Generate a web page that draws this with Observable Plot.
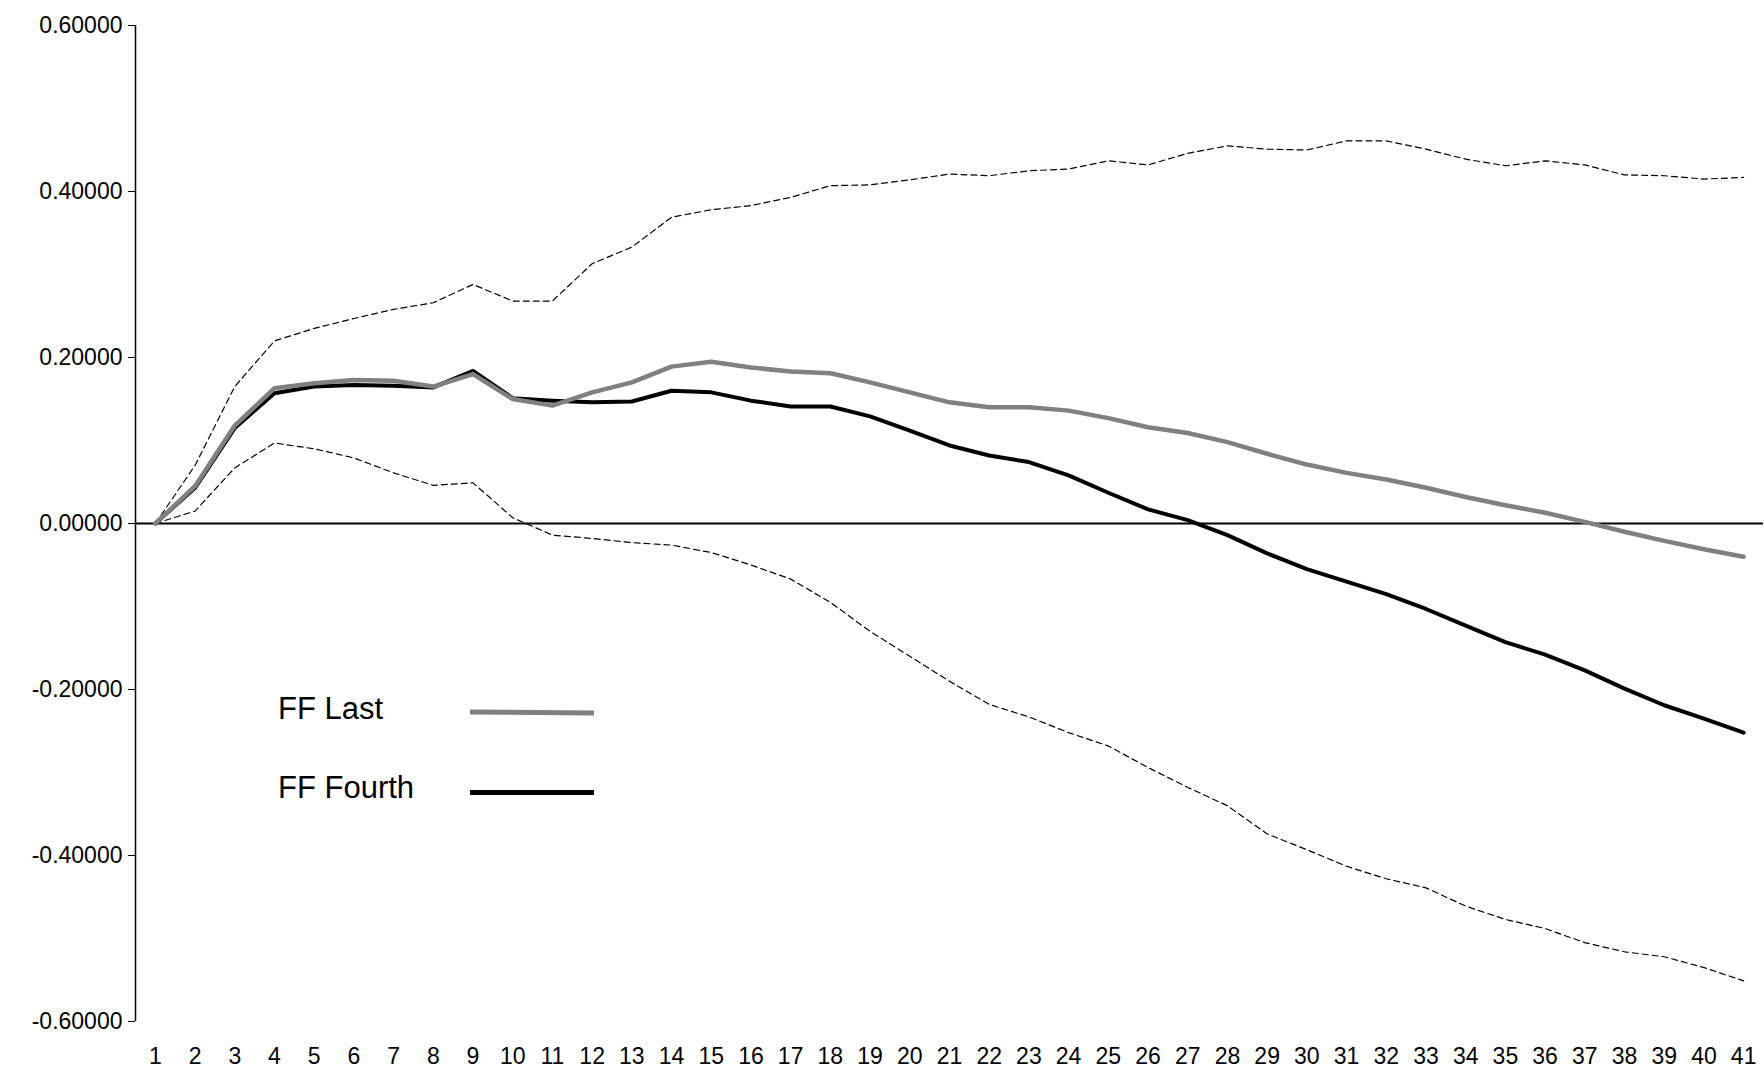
<!DOCTYPE html>
<html><head><meta charset="utf-8">
<script src="https://cdn.jsdelivr.net/npm/d3@7"></script>
<script src="https://cdn.jsdelivr.net/npm/@observablehq/plot@0.6"></script>
<style>
body{margin:0;background:#fff;font-family:"Liberation Sans",Arial,sans-serif}
#wrap{position:relative;width:1764px;height:1074px}
.leg{position:absolute;font-size:31px;color:#000}
.sw{position:absolute;height:4px}
</style></head><body>
<div id="wrap"></div>
<script>
const periods = d3.range(1, 42);
const ffLast = [0,0.045,0.118,0.163,0.169,0.173,0.172,0.165,0.180,0.150,0.142,0.158,0.170,0.189,0.195,0.188,0.183,0.181,0.170,0.158,0.146,0.140,0.140,0.136,0.127,0.116,0.109,0.098,0.084,0.071,0.061,0.053,0.043,0.032,0.022,0.013,0.002,-0.010,-0.021,-0.031,-0.040];
const ffFourth = [0,0.043,0.115,0.157,0.165,0.167,0.166,0.164,0.184,0.151,0.148,0.146,0.147,0.160,0.158,0.148,0.141,0.141,0.129,0.112,0.094,0.082,0.074,0.058,0.037,0.017,0.004,-0.014,-0.036,-0.055,-0.070,-0.085,-0.103,-0.123,-0.143,-0.158,-0.177,-0.199,-0.219,-0.235,-0.252];
const upper = [0,0.07,0.165,0.220,0.235,0.247,0.258,0.266,0.288,0.268,0.268,0.313,0.333,0.369,0.378,0.383,0.393,0.407,0.408,0.414,0.421,0.419,0.425,0.427,0.437,0.432,0.446,0.455,0.451,0.450,0.461,0.461,0.451,0.439,0.431,0.437,0.432,0.420,0.419,0.415,0.417];
const lower = [0,0.015,0.067,0.097,0.090,0.079,0.061,0.046,0.049,0.007,-0.014,-0.018,-0.023,-0.026,-0.035,-0.050,-0.067,-0.095,-0.130,-0.160,-0.190,-0.218,-0.233,-0.252,-0.268,-0.294,-0.318,-0.340,-0.374,-0.393,-0.413,-0.428,-0.439,-0.461,-0.477,-0.488,-0.505,-0.516,-0.522,-0.535,-0.551];
const yTicks = [-0.6,-0.4,-0.2,0,0.2,0.4,0.6];
const fmt = v => d3.format(".5f")(v).replace("−","-");
const chart = Plot.plot({
  width:1764, height:1074,
  marginLeft:135, marginRight:1, marginTop:25, marginBottom:53,
  style:{fontFamily:"Liberation Sans, Arial, sans-serif", fontSize:"23px", color:"#000", background:"#fff"},
  x:{domain:[0.5,41.5], label:null},
  y:{domain:[-0.6,0.6], label:null},
  marks:[
    Plot.axisX({ticks:periods, tickFormat:d=>String(d), tickSize:0, tickPadding:26, fontSize:23}),
    Plot.axisY({ticks:yTicks, tickFormat:fmt, tickSize:7, tickPadding:6, fontSize:23}),
    Plot.ruleX([0.5],{stroke:"#000",strokeWidth:1.5}),
    Plot.ruleY([0],{stroke:"#000",strokeWidth:2}),
    Plot.line(periods,{x:d=>d,y:(d,i)=>upper[i],stroke:"#000",strokeWidth:1.2,strokeDasharray:"6,4"}),
    Plot.line(periods,{x:d=>d,y:(d,i)=>lower[i],stroke:"#000",strokeWidth:1.2,strokeDasharray:"6,4"}),
    Plot.line(periods,{x:d=>d,y:(d,i)=>ffFourth[i],stroke:"#000",strokeWidth:4}),
    Plot.line(periods,{x:d=>d,y:(d,i)=>ffLast[i],stroke:"#808080",strokeWidth:4.5})
  ]
});
const wrap = document.getElementById("wrap");
wrap.appendChild(chart);
wrap.insertAdjacentHTML("beforeend",
 `<div class="leg" style="left:278px;top:691px">FF Last</div>
  <div class="sw" style="left:470px;top:710px;width:124px;background:#808080;height:5px;transform:rotate(0.5deg)"></div>
  <div class="leg" style="left:278px;top:770px">FF Fourth</div>
  <div class="sw" style="left:470px;top:790px;width:124px;background:#000;height:5px"></div>`);
</script></body></html>
